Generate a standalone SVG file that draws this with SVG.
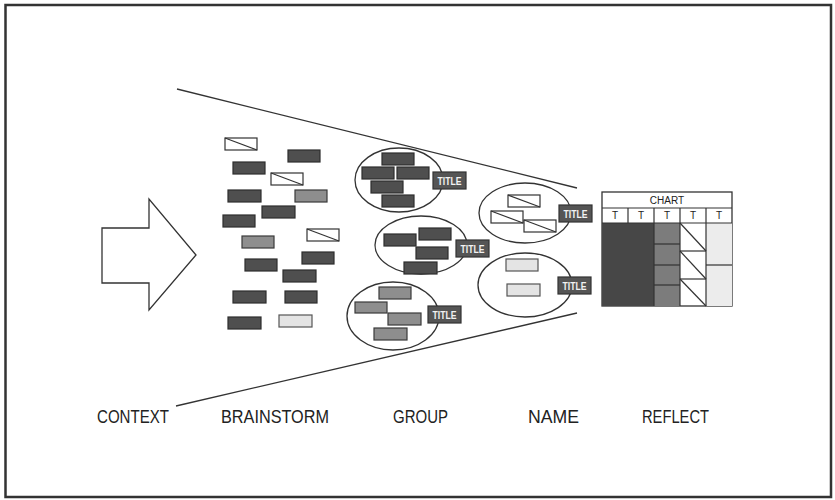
<svg xmlns="http://www.w3.org/2000/svg" width="835" height="500" viewBox="0 0 835 500">
<style>
.line{fill:none;stroke:#333;stroke-width:1.3}
.dk{fill:#4f4f4f;stroke:#2e2e2e;stroke-width:1.2}
.gr{fill:#8e8e8e;stroke:#3a3a3a;stroke-width:1.2}
.lt{fill:#e4e4e4;stroke:#555;stroke-width:1.2}
.wh{fill:#fff;stroke:#333;stroke-width:1.2}
.ttl{fill:#555;stroke:#333;stroke-width:1.2}
.ttxt{fill:#f2f2f2;font-family:"Liberation Sans Narrow","Liberation Sans",Arial,sans-serif;font-size:11px;font-weight:bold;text-anchor:middle}
.lbl{fill:#222;font-family:"Liberation Sans Narrow","Liberation Sans",Arial,sans-serif;font-size:19px}
.ctxt{fill:#222;font-family:"Liberation Sans Narrow","Liberation Sans",Arial,sans-serif;font-size:10px;text-anchor:middle}
.ell{fill:none;stroke:#333;stroke-width:1.3}
</style>
<defs>
<g id="hatch"><rect class="wh" x="0" y="0" width="32" height="12"/><line x1="0" y1="0" x2="32" y2="12" stroke="#333" stroke-width="1.2"/></g>
</defs>
<rect id="frame" x="5.5" y="5" width="825.5" height="492" fill="#fff" stroke="#333" stroke-width="2.5"/>

<g id="connectors">
<line class="line" x1="177" y1="89" x2="577" y2="188"/>
<line class="line" x1="176" y1="406" x2="577" y2="313"/>
</g>

<g id="context-arrow">
<polygon class="line" points="102,228 149,228 149,199 196,255 149,310 149,283 102,283" fill="#fff"/>
</g>

<g id="brainstorm">
<use href="#hatch" x="225" y="138"/>
<rect class="dk" x="288" y="150" width="32" height="12"/>
<rect class="dk" x="233" y="162" width="32" height="12"/>
<use href="#hatch" x="271" y="173"/>
<rect class="dk" x="228" y="190" width="33" height="12"/>
<rect class="gr" x="295" y="190" width="32" height="12"/>
<rect class="dk" x="262" y="206" width="33" height="12"/>
<rect class="dk" x="223" y="215" width="32" height="12"/>
<use href="#hatch" x="307" y="229"/>
<rect class="gr" x="242" y="236" width="32" height="12"/>
<rect class="dk" x="302" y="252" width="32" height="12"/>
<rect class="dk" x="245" y="259" width="32" height="12"/>
<rect class="dk" x="283" y="270" width="33" height="12"/>
<rect class="dk" x="233" y="291" width="33" height="12"/>
<rect class="dk" x="285" y="291" width="32" height="12"/>
<rect class="dk" x="228" y="317" width="33" height="12"/>
<rect class="lt" x="279" y="315" width="33" height="12"/>
</g>

<g id="group-1">
<ellipse class="ell" cx="399" cy="180" rx="44" ry="32"/>
<rect class="dk" x="382" y="153" width="32" height="12"/>
<rect class="dk" x="362" y="167" width="32" height="12"/>
<rect class="dk" x="397" y="167" width="32" height="12"/>
<rect class="dk" x="371" y="181" width="32" height="12"/>
<rect class="dk" x="382" y="195" width="32" height="12"/>
<rect class="ttl" x="433" y="172" width="33" height="17"/>
<text class="ttxt" x="449.5" y="184.5" textLength="24" lengthAdjust="spacingAndGlyphs">TITLE</text>
</g>

<g id="group-2">
<ellipse class="ell" cx="421" cy="245" rx="46" ry="29"/>
<rect class="dk" x="419" y="228" width="32" height="12"/>
<rect class="dk" x="384" y="234" width="32" height="12"/>
<rect class="dk" x="416" y="247" width="32" height="12"/>
<rect class="dk" x="404" y="262" width="33" height="12"/>
<rect class="ttl" x="456" y="240" width="33" height="17"/>
<text class="ttxt" x="472.5" y="252.5" textLength="24" lengthAdjust="spacingAndGlyphs">TITLE</text>
</g>

<g id="group-3">
<ellipse class="ell" cx="393" cy="316" rx="46" ry="34"/>
<rect class="gr" x="379" y="287" width="32" height="12"/>
<rect class="gr" x="355" y="302" width="32" height="11"/>
<rect class="gr" x="388" y="313" width="33" height="12"/>
<rect class="gr" x="374" y="328" width="33" height="12"/>
<rect class="ttl" x="428" y="306" width="33" height="17"/>
<text class="ttxt" x="444.5" y="318.5" textLength="24" lengthAdjust="spacingAndGlyphs">TITLE</text>
</g>

<g id="name-1">
<ellipse class="ell" cx="525" cy="213" rx="46" ry="30"/>
<use href="#hatch" x="508" y="195"/>
<use href="#hatch" x="491" y="211"/>
<use href="#hatch" x="524" y="220"/>
<rect class="ttl" x="559" y="205" width="33" height="17"/>
<text class="ttxt" x="575.5" y="217.5" textLength="24" lengthAdjust="spacingAndGlyphs">TITLE</text>
</g>

<g id="name-2">
<ellipse class="ell" cx="525" cy="285" rx="47" ry="32"/>
<rect class="lt" x="506" y="259" width="32" height="12"/>
<rect class="lt" x="507" y="284" width="33" height="12"/>
<rect class="ttl" x="558" y="277" width="33" height="17"/>
<text class="ttxt" x="574.5" y="289.5" textLength="24" lengthAdjust="spacingAndGlyphs">TITLE</text>
</g>

<g id="chart">
<rect x="602" y="192" width="130" height="114" fill="#fff" stroke="#333" stroke-width="1.3"/>
<rect x="602" y="223" width="52" height="83" fill="#474747"/>
<rect x="654" y="223" width="26" height="83" fill="#7c7c7c"/>
<rect x="706" y="223" width="26" height="83" fill="#ececec"/>
<g stroke="#333" stroke-width="1.2" fill="none">
<line x1="602" y1="208" x2="732" y2="208"/>
<line x1="602" y1="223" x2="732" y2="223"/>
<line x1="628" y1="208" x2="628" y2="223"/>
<line x1="654" y1="208" x2="654" y2="306"/>
<line x1="680" y1="208" x2="680" y2="306"/>
<line x1="706" y1="208" x2="706" y2="306"/>
<line x1="654" y1="244" x2="680" y2="244"/>
<line x1="654" y1="265" x2="680" y2="265"/>
<line x1="654" y1="285" x2="680" y2="285"/>
<line x1="680" y1="251" x2="706" y2="251"/>
<line x1="680" y1="279" x2="706" y2="279"/>
<line x1="680" y1="223" x2="706" y2="251"/>
<line x1="680" y1="251" x2="706" y2="279"/>
<line x1="680" y1="279" x2="706" y2="306"/>
<line x1="706" y1="265" x2="732" y2="265"/>
</g>
<text class="ctxt" x="667" y="204">CHART</text>
<text class="ctxt" x="615" y="219">T</text>
<text class="ctxt" x="641" y="219">T</text>
<text class="ctxt" x="667" y="219">T</text>
<text class="ctxt" x="693" y="219">T</text>
<text class="ctxt" x="719" y="219">T</text>
</g>

<g id="labels">
<text class="lbl" x="97" y="423" textLength="72" lengthAdjust="spacingAndGlyphs">CONTEXT</text>
<text class="lbl" x="221" y="423" textLength="108" lengthAdjust="spacingAndGlyphs">BRAINSTORM</text>
<text class="lbl" x="393" y="423" textLength="55" lengthAdjust="spacingAndGlyphs">GROUP</text>
<text class="lbl" x="528" y="423" textLength="51" lengthAdjust="spacingAndGlyphs">NAME</text>
<text class="lbl" x="642" y="423" textLength="67" lengthAdjust="spacingAndGlyphs">REFLECT</text>
</g>
</svg>
